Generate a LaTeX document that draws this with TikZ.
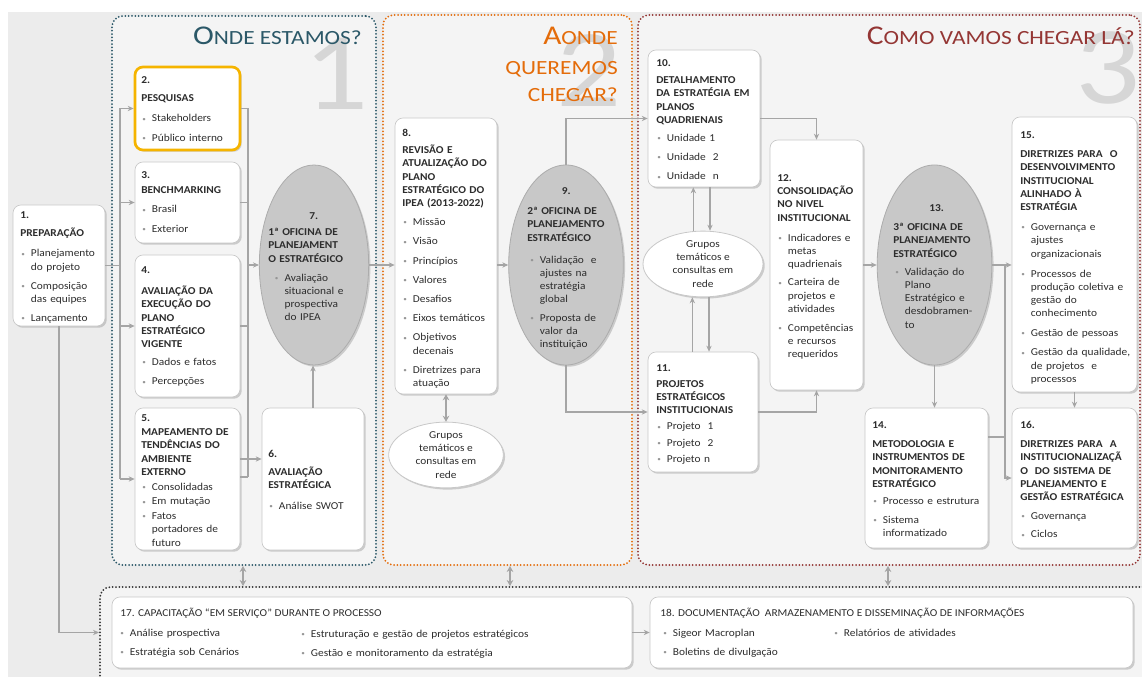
\documentclass[tikz,border=0pt]{standalone}
\usepackage{fontspec}
\setmainfont{Carlito}[FakeStretch=1.08]
\newfontfamily\ttl{Carlito}[FakeStretch=1.16]
\usetikzlibrary{shapes.geometric,shadows,arrows.meta,fit,calc}
\definecolor{bg}{RGB}{236,236,236}
\definecolor{pfill}{RGB}{244,244,244}
\definecolor{teal1}{RGB}{43,88,104}
\definecolor{orng}{RGB}{228,108,10}
\definecolor{dred}{RGB}{148,54,52}
\definecolor{connc}{RGB}{165,165,165}
\definecolor{bxb}{RGB}{200,200,200}
\definecolor{txt}{RGB}{45,45,45}
\definecolor{bulc}{RGB}{150,150,150}
\definecolor{ellg}{RGB}{200,200,200}
\definecolor{ellb}{RGB}{172,172,172}
\definecolor{numg}{RGB}{214,214,214}
\definecolor{yel}{RGB}{245,180,0}
\setlength\parskip{0pt}
\newlength\hgap \newlength\igap \newlength\bpre
\setlength\hgap{3.75pt}\setlength\igap{4.5pt}\setlength\bpre{0.8pt}
\newcommand\hd[1]{\par\vspace{\hgap}\textbf{#1}}
\newcommand\bul{\textcolor{bulc}{\raisebox{0.6pt}{\fontsize{5}{5}\selectfont\textbullet}}}
\newcommand\bli[1]{\noindent\hspace*{\bpre}\makebox[7.2pt][l]{\bul}{\def\\{\par\noindent\hspace*{\dimexpr\bpre+7.2pt\relax}}#1}}
\newcommand\bl[2][\igap]{\par\vspace{#1}\bli{#2}}
\tikzset{
  box/.style={draw=bxb, line width=0.5pt, fill=white, rounded corners=6pt, inner sep=0pt,
    drop shadow={shadow xshift=1.3pt, shadow yshift=-1.3pt, opacity=0.35}},
  gell/.style={ellipse, draw=ellb, line width=0.6pt, fill=ellg, inner sep=0pt,
    drop shadow={shadow xshift=1.3pt, shadow yshift=-1.3pt, opacity=0.35}},
  wel/.style={ellipse, draw=bxb, line width=0.6pt, fill=white, inner sep=0pt, align=center,
    text=txt, font=\fontsize{7.9}{9.9}\selectfont,
    drop shadow={shadow xshift=1.3pt, shadow yshift=-1.3pt, opacity=0.35}},
  tx/.style={anchor=base west, inner sep=0pt, text width=120pt, align=left, text=txt,
    font=\fontsize{7.9}{9.9}\selectfont},
  tx0/.style={anchor=base west, inner sep=0pt, text=txt, font=\fontsize{7.9}{9.9}\selectfont},
  ln/.style={draw=connc, line width=0.9pt},
  arr/.style={ln, -{Stealth[length=4.5pt,width=4pt]}},
  darr/.style={draw=connc, line width=1.3pt, {Stealth[length=4.5pt,width=5pt]}-{Stealth[length=4.5pt,width=5pt]}},
  panel/.style={rounded corners=8pt, line width=1.5pt, dash pattern=on 0pt off 2.5pt, line cap=round, fill=pfill, inner sep=0pt},
  ttlt/.style={anchor=base east, inner sep=0pt},
  bignum/.style={anchor=base, inner sep=0pt, text=numg, font=\ttl\fontsize{83}{83}\selectfont},
}
\newcommand\bx[6][]{\node[box,fit={(#3,#4) (#5,#6)},#1] (#2) {};}
\begin{document}
\begin{tikzpicture}[x=0.75pt,y=-0.75pt]
\useasboundingbox (0,0) rectangle (1142,677);
\clip (0,0) rectangle (1142,677);
\fill[white] (0,0) rectangle (1142,677);
\fill[bg] (8,12) rectangle (1142,677);
% panels
\node[panel, draw=teal1, fit={(112,16) (376,565)}] (p1) {};
\node[panel, draw=orng, fit={(383,15) (632,565)}] (p2) {};
\node[panel, draw=dred, fit={(638,15) (1140,565)}] (p3) {};
\node[panel, draw=black!80, fit={(100,587) (1170,720)}] (p4) {};
% big numerals
\node[bignum] (big1) at (336,110) {1};
\node[bignum] (big2) at (589,107) {2};
\node[bignum] (big3) at (1108,104) {3};
% titles
\node[ttlt, text=teal1] (t1) at (362,45) {\ttl\fontsize{20.3}{21}\selectfont O\fontsize{15.1}{16}\selectfont NDE ESTAMOS?};
\node[ttlt, text=orng] (t2a) at (618,45) {\ttl\fontsize{20.3}{21}\selectfont A\fontsize{15.1}{16}\selectfont ONDE};
\node[ttlt, text=orng] (t2b) at (618,75) {\ttl\fontsize{15.1}{16}\selectfont QUEREMOS};
\node[ttlt, text=orng] (t2c) at (618,102) {\ttl\fontsize{15.1}{16}\selectfont CHEGAR?};
\node[ttlt, text=dred] (t3) at (1135,45) {\ttl\fontsize{20.3}{21}\selectfont C\fontsize{15.1}{16}\selectfont OMO VAMOS CHEGAR LÁ?};
% boxes
\bx{n1}{13}{205}{105}{326}
\bx[draw=yel,line width=2pt]{n2}{135}{67}{240}{150}
\bx{n3}{135}{162}{240}{243}
\bx{n4}{135}{255}{240}{397}
\bx{n5}{135}{408}{240}{550}
\bx{n6}{262}{408}{364}{550}
\bx{n8}{395}{118}{497}{394}
\bx{n10}{648}{50}{760}{187}
\bx{n11}{648}{352}{758}{472}
\bx{n12}{770}{140}{863}{390}
\bx{n14}{865}{408}{988}{548}
\bx{n15}{1012}{117}{1137}{392}
\bx{n16}{1012}{408}{1137}{548}
\bx{n17}{112}{597}{632}{668}
\bx{n18}{650}{597}{1133}{668}
% ellipses
\node[gell, minimum width=82pt, minimum height=150pt] (e7) at (314,265) {};
\node[gell, minimum width=86pt, minimum height=150pt] (e9) at (566,265) {};
\node[gell, minimum width=86pt, minimum height=150pt] (e13) at (934.5,265) {};
\node[wel, minimum width=86pt, minimum height=48pt] (g2) at (446,455) {Grupos\\temáticos e\\consultas em\\rede};
\node[wel, minimum width=90pt, minimum height=48pt] (g3) at (703,264) {Grupos\\temáticos e\\consultas em\\rede};
% texts
\node[tx] (n1t) at (20,218.5) {\textbf{1.}\hd{PREPARAÇÃO}\bl[5.25pt]{Planejamento\\do projeto}\bl{Composição\\das equipes}\bl{Lançamento}};
\node[tx] (n2t) at (141,83.5) {\textbf{2.}\hd{PESQUISAS}\bl[5.25pt]{Stakeholders}\bl{Público interno}};
\node[tx] (n3t) at (141,178.5) {\setlength\hgap{1.5pt}\textbf{3.}\hd{BENCHMARKING}\bl{Brasil}\bl{Exterior}};
\node[tx] (n4t) at (141,273.5) {\setlength\hgap{6pt}\textbf{4.}\hd{AVALIAÇÃO DA\\EXECUÇÃO DO\\PLANO\\ESTRATÉGICO\\VIGENTE}\bl[3.75pt]{Dados e fatos}\bl{Percepções}};
\node[tx] (n5t) at (141,421.5) {\setlength\hgap{0.75pt}\setlength\igap{1.2pt}\textbf{5.}\hd{MAPEAMENTO DE\\TENDÊNCIAS DO\\AMBIENTE\\EXTERNO}\bl{Consolidadas}\bl{Em mutação}\bl{Fatos\\portadores de\\futuro}};
\node[tx] (n6t) at (268,457.5) {\textbf{6.}\hd{AVALIAÇÃO\\ESTRATÉGICA}\bl[5.25pt]{Análise SWOT}};
\node[tx] (e7t) at (268,219.5) {\setlength\hgap{2.25pt}\setlength\bpre{5pt}\hspace*{30.75pt}\textbf{7.}\hd{1ª OFICINA DE\\PLANEJAMENT\\O ESTRATÉGICO}\bl{Avaliação\\situacional e\\prospectiva\\do IPEA}};
\node[tx] (n8t) at (402,136.5) {\setlength\hgap{3pt}\textbf{8.}\hd{REVISÃO E\\ATUALIZAÇÃO DO\\PLANO\\ESTRATÉGICO DO\\IPEA (2013-2022)}\bl{Missão}\bl{Visão}\bl{Princípios}\bl{Valores}\bl{Desafios}\bl{Eixos temáticos}\bl{Objetivos\\decenais}\bl{Diretrizes para\\atuação}};
\node[tx] (e9t) at (527,194.5) {\setlength\hgap{5.25pt}\setlength\bpre{2.25pt}\hspace*{26pt}\textbf{9.}\hd{2ª OFICINA DE\\PLANEJAMENTO\\ESTRATÉGICO}\bl[6.75pt]{Validação \ e\\ajustes na\\estratégia\\global}\bl[3.75pt]{Proposta de\\valor da\\instituição}};
\node[tx] (n10t) at (656,66.5) {\setlength\hgap{3pt}\textbf{10.}\hd{DETALHAMENTO\\DA ESTRATÉGIA EM\\PLANOS\\QUADRIENAIS}\bl[3.75pt]{Unidade 1}\bl{Unidade \ 2}\bl{Unidade \ n}};
\node[tx] (n11t) at (656,371) {\setlength\hgap{2.25pt}\setlength\igap{2.25pt}\textbf{11.}\hd{PROJETOS\\ESTRATÉGICOS\\INSTITUCIONAIS}\bl{Projeto \ 1}\bl{Projeto \ 2}\bl{Projeto n}};
\node[tx] (n12t) at (777,181.5) {\setlength\hgap{0pt}\setlength\igap{4.25pt}\textbf{12.}\hd{CONSOLIDAÇÃO\\NO NIVEL\\INSTITUCIONAL}\bl[5.25pt]{Indicadores e\\metas\\quadrienais}\bl[3.75pt]{Carteira de\\projetos e\\atividades}\bl{Competências\\e recursos\\requeridos}};
\node[tx] (e13t) at (893,211.5) {\setlength\hgap{4.5pt}\setlength\bpre{1.5pt}\hspace*{27pt}\textbf{13.}\hd{3ª OFICINA DE\\PLANEJAMENTO\\ESTRATÉGICO}\bl[3.75pt]{Validação do\\Plano\\Estratégico e\\desdobramen-\\to}};
\node[tx] (n14t) at (872,428.5) {\setlength\hgap{4.5pt}\textbf{14.}\hd{METODOLOGIA E\\INSTRUMENTOS DE\\MONITORAMENTO\\ESTRATÉGICO}\bl[3pt]{Processo e estrutura}\bl{Sistema\\informatizado}};
\node[tx] (n15t) at (1020,138.5) {\setlength\hgap{4.5pt}\setlength\igap{4.75pt}\textbf{15.}\hd{DIRETRIZES PARA \ O\\DESENVOLVIMENTO\\INSTITUCIONAL\\ALINHADO À\\ESTRATÉGIA}\bl[5.25pt]{Governança e\\ajustes\\organizacionais}\bl[5.25pt]{Processos de\\produção coletiva e\\gestão do\\conhecimento}\bl{Gestão de pessoas}\bl{Gestão da qualidade,\\de projetos \ e\\processos}};
\node[tx] (n16t) at (1020,428.5) {\setlength\hgap{4.5pt}\textbf{16.}\hd{DIRETRIZES PARA \ A\\INSTITUCIONALIZAÇÃ\\O \ DO SISTEMA DE\\PLANEJAMENTO E\\GESTÃO ESTRATÉGICA}\bl{Governança}\bl[3.75pt]{Ciclos}};
\node[tx0] (n17t) at (120,616.5) {17. CAPACITAÇÃO “EM SERVIÇO” DURANTE O PROCESSO};
\node[tx] (n17a) at (119,636) {\bli{Análise prospectiva}\bl{Estratégia sob Cenários}};
\node[tx, text width=250pt] (n17b) at (300,637) {\bli{Estruturação e gestão de projetos estratégicos}\bl{Gestão e monitoramento da estratégia}};
\node[tx0] (n18t) at (660,616.5) {18. DOCUMENTAÇÃO \ ARMAZENAMENTO E DISSEMINAÇÃO DE INFORMAÇÕES};
\node[tx] (n18a) at (662,636) {\bli{Sigeor Macroplan}\bl{Boletins de divulgação}};
\node[tx] (n18b) at (833,636) {\bli{Relatórios de atividades}};
% connectors panel 1
\coordinate (L2) at (120,108.5); \coordinate (L5) at (120,479);
\draw[ln] (L2) -- (L5);
\draw[ln] (n1.east) -- (n1.east -| L2);
\foreach \n in {n2,n3,n4,n5} \draw[arr] (\n.west -| L2) -- (\n.west);
\coordinate (R2) at (248,108.5); \coordinate (R5) at (248,477);
\draw[ln] (R2) -- (R5);
\foreach \n in {n2,n3,n4} \draw[ln] (\n.east) -- (\n.east -| R2);
\draw[ln] (n5.east |- R5) -- (R5);
\draw[arr] (e7.west -| R2) -- (e7.west);
\coordinate (c56) at (0,459);
\draw[arr] (n5.east |- c56) -- (n6.west |- c56);
\draw[arr] (n6.north) -- (n6.north |- e7.south);
\draw[arr] (e7.east) -- (e7.east -| n8.west);
% panel 2
\draw[arr] (e9.west -| n8.east) -- (e9.west);
\draw[darr] (n8.south) -- (n8.south |- g2.north);
\draw[arr] (e9.north) |- (n10.west);
\draw[arr] (e9.south) |- (n11.west);
% panel 3
\draw[arr] (n10.east) -| (n12.north);
\draw[arr] (n11.east) -| (n12.south);
\coordinate (ua) at ([xshift=-8pt]n10.south); \coordinate (da) at ([xshift=4.5pt]n10.south);
\draw[arr] (ua |- g3.north) -- (ua);
\draw[arr] (da) -- (da |- g3.north);
\coordinate (ub) at ([xshift=-8pt]n11.north); \coordinate (db) at ([xshift=4.5pt]n11.north);
\draw[arr] (ub) -- (ub |- g3.south);
\draw[arr] (db |- g3.south) -- (db);
\draw[arr] (n12.east) -- (e13.west);
\draw[arr] (e13.south) -- (e13.south |- n14.north);
\draw[arr] (e13.east) -- (e13.east -| n15.west);
\coordinate (B1) at (1005,265);
\draw[arr] (B1) |- (n16.west);
\coordinate (J14) at (1005,437);
\draw[ln] (n14.east |- J14) -- (J14);
\draw[arr] (n15.south) -- (n15.south |- n16.north);
% between panels
\coordinate (a1) at (243,0); \coordinate (a2) at (510,0); \coordinate (a3) at (888,0);
\draw[darr] (p1.south -| a1) -- (p4.north -| a1);
\draw[darr] (p2.south -| a2) -- (p4.north -| a2);
\draw[darr] (p3.south -| a3) -- (p4.north -| a3);
\draw[arr] (n1.south) |- (p4.west |- n17.west);
\draw[arr] (n17.east) -- (n18.west);
\end{tikzpicture}
\end{document}
